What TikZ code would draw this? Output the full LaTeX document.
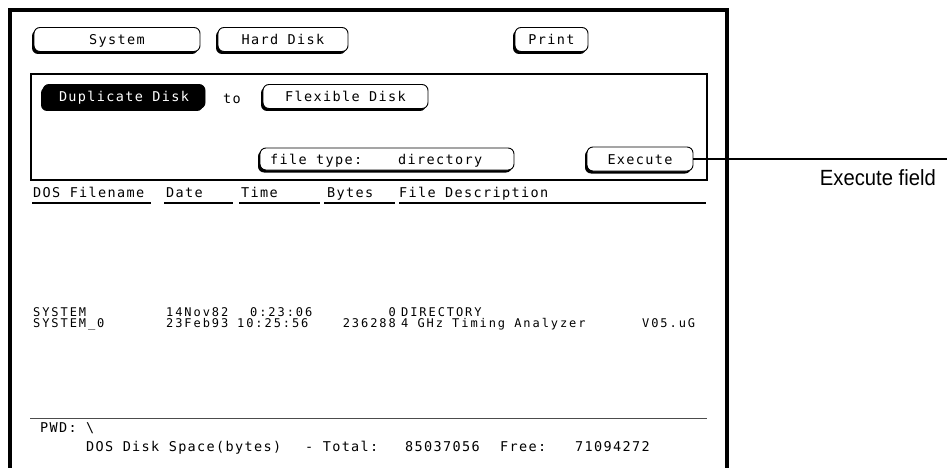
\documentclass[tikz,border=0pt]{standalone}
\usepackage{fontspec}
\newfontfamily\scrfont[LetterSpace=10]{DejaVu Sans Mono}
\newfontfamily\rowfont[LetterSpace=16]{DejaVu Sans Mono}
\newfontfamily\labelfont[FakeStretch=0.92]{Liberation Sans}
\usetikzlibrary{shadows}
\tikzset{scr/.style = {font=\scrfont\fontsize{13.5}{15}\selectfont, inner sep=0pt},
         key/.style = {scr, draw, fill=white, line width=0.9pt, rounded corners=6pt,
                       minimum height=24pt, text height=12pt, text depth=1pt,
                       general shadow={fill=black, shadow xshift=-2pt, shadow yshift=-2.5pt}},
         keyon/.style = {key, fill=black, text=white},
         txt/.style = {scr, anchor=base west},
         row/.style = {font=\rowfont\fontsize{12}{13}\selectfont, inner sep=0pt, anchor=base west},
         rownum/.style = {row, anchor=base east},
         rule/.style = {line width=1.2pt}}

\begin{document}
\begin{tikzpicture}[x=1pt, y=-1pt]
    \useasboundingbox (0, 0) rectangle (947, 468);

    % top row of keys
    \node [key, minimum width=166pt] (system) at (117, 39.5) {System};
    \node [key, minimum width=130pt] (harddisk) at (283, 39.5) {Hard Disk};
    \node [key, minimum width=73pt] (print) at (551.5, 39.5) {Print};

    % duplicate panel
    \draw [rule] (31, 74) rectangle (707, 180);
    \node [keyon, minimum width=162pt] (dup) at (124, 96.5) {Duplicate Disk};
    \node [txt] (to) at (223, 103) {to};
    \node [key, minimum width=165pt] (flex) at (345.5, 96.5) {Flexible Disk};
    \node [key, minimum width=254pt, minimum height=22pt] (ftype) at (387, 159) {};
    \node [txt] (ftypelbl) at (270, 164.5) {file type:};
    \node [txt] (ftypeval) at (398, 164.5) {directory};
    \node [key, minimum width=106pt] (exec) at (640, 159) {Execute};

    % column heads
    \node [txt] (hname) at (33, 197) {DOS Filename};
    \node [txt] (hdate) at (166, 197) {Date};
    \node [txt] (htime) at (241, 197) {Time};
    \node [txt] (hbytes) at (327, 197) {Bytes};
    \node [txt] (hdesc) at (399, 197) {File Description};
    \foreach \a/\b in {32/151, 164/233, 239/320, 324/395, 399/706} {
      \draw [rule] (\a, 203) -- (\b, 203);
    }

    % files
    \node [row] (fname1) at (33, 316) {SYSTEM};
    \node [row] (fdate1) at (166, 316) {14Nov82};
    \node [row] (ftime1) at (250, 316) {0:23:06};
    \node [rownum] (fbytes1) at (396, 316) {0};
    \node [row] (fdesc1) at (401, 316) {DIRECTORY};
    \node [row] (fname2) at (33, 327.5) {SYSTEM\_0};
    \node [row] (fdate2) at (166, 327.5) {23Feb93};
    \node [row] (ftime2) at (237, 327.5) {10:25:56};
    \node [rownum] (fbytes2) at (396, 327.5) {236288};
    \node [row] (fdesc2) at (401, 327.5) {4 GHz Timing Analyzer};
    \node [row] (fver2) at (642, 327.5) {V05.uG};

    % disk space
    \draw [rule, gray!60!black] (30, 418.5) -- (707, 418.5);
    \node [txt] (pwd) at (40, 432) {PWD: \textbackslash};
    \node [txt] (space) at (86, 451.5) {DOS Disk Space(bytes)};
    \node [txt] (total) at (305, 451.5) {- Total:};
    \node [txt] (totalval) at (405, 451.5) {85037056};
    \node [txt] (free) at (500, 451.5) {Free:};
    \node [txt] (freeval) at (575, 451.5) {71094272};

    % callout
    \coordinate (fieldend) at (947, 161);
    \draw [line width=1.6pt] (exec.east) -- (exec.east -| fieldend);
    \node [anchor=base east, inner sep=0pt, font=\labelfont\fontsize{22}{25}\selectfont] (execlbl) at (936, 185) {Execute field};

    % screen frame
    \draw [line width=3.5pt] (10, 480) -- (10, 10) -- (727, 10) -- (727, 480);
  \end{tikzpicture}
\end{document}
